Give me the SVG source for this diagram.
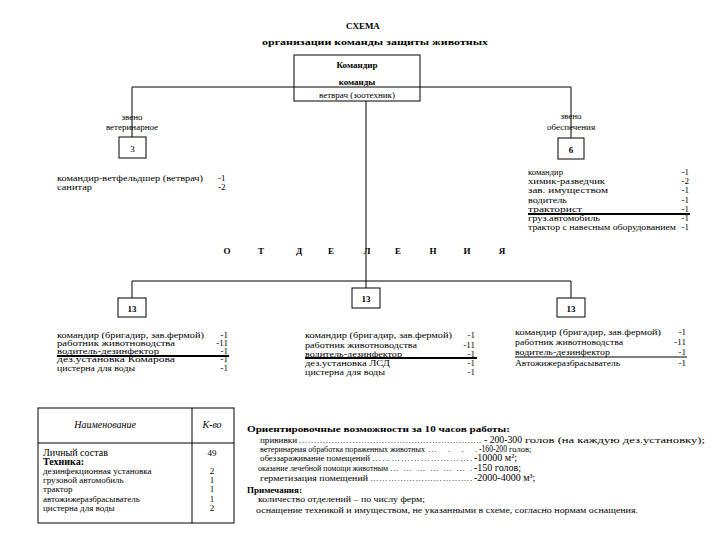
<svg xmlns="http://www.w3.org/2000/svg" width="720" height="540" viewBox="0 0 720 540" font-family="'Liberation Serif','Times New Roman',serif">
<style>
text{font-family:'Liberation Serif','Times New Roman',serif;fill:#000;font-size:9px}
.b{font-weight:bold}
.i{font-style:italic}
.c{text-anchor:middle}
.r{text-anchor:end}
.box{fill:#fff;stroke:#000;stroke-width:1}
.ln{stroke:#000;stroke-width:1;fill:none}
.thick{stroke:#000;stroke-width:2}
.m{font-size:10px}
.n{font-size:8.5px}
</style>
<rect width="720" height="540" fill="#fff"/>
<g id="title">
<text x="363" y="29" class="b c" font-size="13">СХЕМА</text>
<text x="375" y="45" class="b c" font-size="11" textLength="226" lengthAdjust="spacingAndGlyphs">организации команды защиты животных</text>
</g>
<g id="connectors" class="ln">
<line x1="132" y1="87" x2="571" y2="87"/>
<line x1="132" y1="87" x2="132" y2="137"/>
<line x1="571" y1="87" x2="571" y2="138"/>
<line x1="366" y1="101" x2="366" y2="288"/>
<line x1="132" y1="281" x2="571" y2="281"/>
<line x1="132" y1="281" x2="132" y2="298"/>
<line x1="571" y1="281" x2="571" y2="298"/>
</g>
<g id="commander">
<rect x="294" y="55" width="126" height="46" fill="none" stroke="#000"/>
<text x="357" y="68" class="b c" font-size="12.5">Командир</text>
<text x="357" y="85" class="b c" font-size="12.5">команды</text>
<text x="357" y="98" class="c" font-size="11">ветврач (зоотехник)</text>
</g>
<g id="zveno-vet">
<text x="132" y="120" class="c" font-size="11">звено</text>
<text x="132" y="130" class="c" font-size="11">ветеринарное</text>
<rect class="box" x="119" y="137" width="27" height="21"/>
<text x="132.5" y="152" class="c" font-size="12">3</text>
</g>
<g id="zveno-vet-list">
<text x="57" y="181" textLength="146" lengthAdjust="spacingAndGlyphs">командир-ветфельдшер (ветврач)</text>
<text x="218" y="181">-1</text>
<text x="57" y="190" textLength="35" lengthAdjust="spacingAndGlyphs">санитар</text>
<text x="218" y="190">-2</text>
</g>
<g id="zveno-obesp">
<text x="571" y="119" class="c" font-size="11">звено</text>
<text x="571" y="130" class="c" font-size="11">обеспечения</text>
<rect class="box" x="558" y="138" width="26" height="21"/>
<text x="571" y="153" class="b c" font-size="12">6</text>
</g>
<g id="zveno-obesp-list">
<text x="528" y="175" textLength="35" lengthAdjust="spacingAndGlyphs">командир</text>
<text x="528" y="184" textLength="77" lengthAdjust="spacingAndGlyphs">химик-разведчик</text>
<text x="528" y="193" textLength="80" lengthAdjust="spacingAndGlyphs">зав. имуществом</text>
<text x="528" y="203" textLength="39" lengthAdjust="spacingAndGlyphs">водитель</text>
<text x="528" y="212" textLength="54" lengthAdjust="spacingAndGlyphs">тракторист</text>
<text x="528" y="221" textLength="72" lengthAdjust="spacingAndGlyphs">груз.автомобиль</text>
<text x="528" y="230" textLength="148" lengthAdjust="spacingAndGlyphs">трактор с навесным оборудованием</text>
<g class="r">
<text x="689" y="175">-1</text>
<text x="689" y="184">-2</text>
<text x="689" y="193">-1</text>
<text x="689" y="203">-1</text>
<text x="689" y="212">-1</text>
<text x="689" y="221">-1</text>
<text x="689" y="230">-1</text>
</g>
<line class="thick" x1="528" y1="214" x2="690" y2="214"/>
</g>
<g id="otdelenie-label" class="b c">
<text x="227" y="254" font-size="11">О</text>
<text x="261" y="254" font-size="11">Т</text>
<text x="299" y="254" font-size="11">Д</text>
<text x="331" y="254" font-size="11">Е</text>
<text x="367" y="254" font-size="11">Л</text>
<text x="398" y="254" font-size="11">Е</text>
<text x="433" y="254" font-size="11">Н</text>
<text x="467" y="254" font-size="11">И</text>
<text x="502" y="254" font-size="11">Я</text>
</g>
<g id="otd-1">
<rect class="box" x="118" y="298" width="28" height="19"/>
<text x="132" y="312" class="b c" font-size="12">13</text>
<text x="57" y="338" textLength="147" lengthAdjust="spacingAndGlyphs">командир (бригадир, зав.фермой)</text>
<text x="57" y="346" textLength="118" lengthAdjust="spacingAndGlyphs">работник животноводства</text>
<text x="57" y="354" textLength="102" lengthAdjust="spacingAndGlyphs">водитель-дезинфектор</text>
<text x="57" y="362" textLength="118" lengthAdjust="spacingAndGlyphs">дез.установка Комарова</text>
<text x="57" y="371" textLength="78" lengthAdjust="spacingAndGlyphs">цистерна для воды</text>
<g class="r">
<text x="228" y="338">-1</text>
<text x="228" y="346">-11</text>
<text x="228" y="354">-1</text>
<text x="228" y="362">-1</text>
<text x="228" y="371">-1</text>
</g>
<line class="thick" x1="57" y1="356" x2="229" y2="356"/>
</g>
<g id="otd-2">
<rect class="box" x="352" y="288" width="28" height="20"/>
<text x="366" y="302" class="b c" font-size="12">13</text>
<text x="305" y="338" textLength="147" lengthAdjust="spacingAndGlyphs">командир (бригадир, зав.фермой)</text>
<text x="305" y="348" textLength="112" lengthAdjust="spacingAndGlyphs">работник животноводства</text>
<text x="305" y="357" textLength="97" lengthAdjust="spacingAndGlyphs">водитель-дезинфектор</text>
<text x="305" y="366" textLength="85" lengthAdjust="spacingAndGlyphs">дез.установка ЛСД</text>
<text x="305" y="375" textLength="80" lengthAdjust="spacingAndGlyphs">цистерна для воды</text>
<g class="r">
<text x="475" y="338">-1</text>
<text x="475" y="348">-11</text>
<text x="475" y="357">-1</text>
<text x="475" y="366">-1</text>
<text x="475" y="375">-1</text>
</g>
<line class="thick" x1="305" y1="358" x2="477" y2="358"/>
</g>
<g id="otd-3">
<rect class="box" x="557" y="298" width="28" height="19"/>
<text x="571" y="312" class="b c" font-size="12">13</text>
<text x="515" y="335" textLength="146" lengthAdjust="spacingAndGlyphs">командир (бригадир, зав.фермой)</text>
<text x="515" y="345" textLength="108" lengthAdjust="spacingAndGlyphs">работник животноводства</text>
<text x="515" y="355" textLength="95" lengthAdjust="spacingAndGlyphs">водитель-дезинфектор</text>
<text x="515" y="366" textLength="105" lengthAdjust="spacingAndGlyphs">Автожижеразбрасыватель</text>
<g class="r">
<text x="686" y="335">-1</text>
<text x="686" y="345">-11</text>
<text x="686" y="355">-1</text>
<text x="686" y="366">-1</text>
</g>
<line class="ln" x1="515" y1="357" x2="687" y2="357"/>
</g>
<g id="table">
<rect x="38" y="408" width="196" height="115" fill="none" stroke="#000"/>
<line class="ln" x1="192" y1="408" x2="192" y2="523"/>
<line class="ln" x1="38" y1="443" x2="234" y2="443"/>
<text x="105" y="428" class="i c m">Наименование</text>
<text x="212" y="428" class="i c m">К-во</text>
<text x="43" y="456" class="m">Личный состав</text>
<text x="43" y="465" class="b m">Техника:</text>
<text x="43" y="474">дезинфекционная установка</text>
<text x="43" y="483">грузовой автомобиль</text>
<text x="43" y="492">трактор</text>
<text x="43" y="502">автожижеразбрасыватель</text>
<text x="43" y="511">цистерна для воды</text>
<g class="c">
<text x="212" y="456" font-size="11">49</text>
<text x="212" y="474">2</text>
<text x="212" y="483">1</text>
<text x="212" y="492">1</text>
<text x="212" y="502">1</text>
<text x="212" y="511">2</text>
</g>
</g>
<g id="notes">
<text x="247" y="432" class="b" font-size="10.5" textLength="263" lengthAdjust="spacingAndGlyphs">Ориентировочные возможности за 10 часов работы:</text>
<text x="260" y="443" class="n" textLength="37" lengthAdjust="spacingAndGlyphs">прививки</text>
<text x="299" y="443" class="n" textLength="182" lengthAdjust="spacing">……………………………………………………..</text>
<text x="484" y="443" class="m" textLength="38" lengthAdjust="spacingAndGlyphs">- 200-300</text>
<text x="525" y="443" class="n" textLength="180" lengthAdjust="spacingAndGlyphs">голов (на каждую дез.установку);</text>
<text x="260" y="452" class="n" textLength="165" lengthAdjust="spacingAndGlyphs">ветеринарная обработка пораженных животных</text>
<text x="428" y="452" class="n" textLength="49" lengthAdjust="spacing">…...</text>
<text x="479" y="452" class="m" textLength="28" lengthAdjust="spacingAndGlyphs">-160-200</text>
<text x="509" y="452" class="n">голов;</text>
<text x="260" y="461" class="n" textLength="110" lengthAdjust="spacingAndGlyphs">обеззараживание помещений</text>
<text x="372" y="461" class="n" textLength="100" lengthAdjust="spacing">………………………….</text>
<text x="474" y="461" class="m">-10000 м²;</text>
<text x="258" y="471" class="n" textLength="130" lengthAdjust="spacingAndGlyphs">оказание лечебной помощи животным</text>
<text x="390" y="471" class="n" textLength="82" lengthAdjust="spacing">……………….</text>
<text x="474" y="471" class="m">-150 голов;</text>
<text x="260" y="481" class="n" textLength="108" lengthAdjust="spacingAndGlyphs">герметизация помещений</text>
<text x="370" y="481" class="n" textLength="102" lengthAdjust="spacing">…………………………….</text>
<text x="474" y="481" class="m">-2000-4000 м³;</text>
<text x="247" y="493" class="b" font-size="11">Примечания:</text>
<text x="258" y="502" textLength="167" lengthAdjust="spacingAndGlyphs">количество отделений – по числу ферм;</text>
<text x="256" y="513" textLength="382" lengthAdjust="spacingAndGlyphs">оснащение техникой и имуществом, не указанными в схеме, согласно нормам оснащения.</text>
</g>
</svg>
